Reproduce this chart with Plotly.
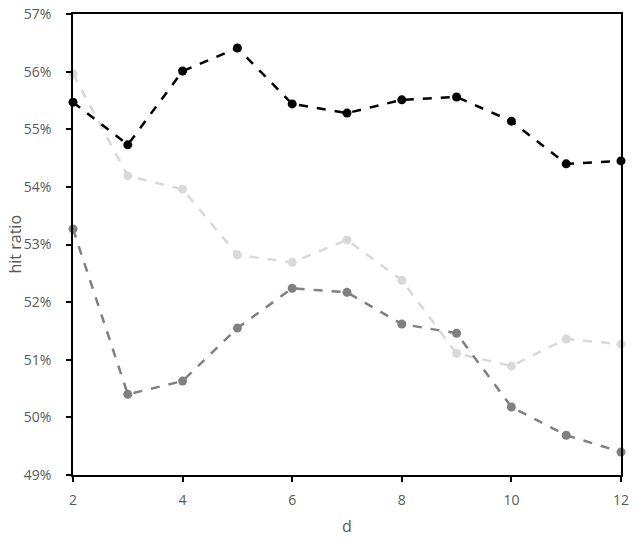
import plotly.graph_objects as go

d = [2, 3, 4, 5, 6, 7, 8, 9, 10, 11, 12]
black_series = [0.5547, 0.5473, 0.5601, 0.5641, 0.5544, 0.5528, 0.5551, 0.5556, 0.5514, 0.5440, 0.5445]
light_series = [0.5596, 0.5419, 0.5396, 0.5282, 0.5269, 0.5308, 0.5238, 0.5111, 0.5089, 0.5136, 0.5127]
grey_series = [0.5327, 0.5040, 0.5063, 0.5155, 0.5224, 0.5217, 0.5162, 0.5146, 0.5018, 0.4969, 0.4940]

y_ticks = [0.49, 0.50, 0.51, 0.52, 0.53, 0.54, 0.55, 0.56, 0.57]
x_ticks = [2, 4, 6, 8, 10, 12]


def series(y, color):
    return go.Scatter(
        x=d, y=y, mode='lines+markers',
        line=dict(color=color, width=2.5, dash='dash'),
        marker=dict(color=color, size=9),
        cliponaxis=False, showlegend=False)


fig = go.Figure([
    series(light_series, '#D9D9D9'),
    series(grey_series, '#808080'),
    series(black_series, '#000000'),
])

axis_font = dict(family='Open Sans, Liberation Sans, sans-serif', size=14, color='#595959')
title_font = dict(family='Open Sans, Liberation Sans, sans-serif', size=16, color='#595959')

fig.update_layout(
    width=636, height=540,
    margin=dict(l=73, r=15, t=14, b=65),
    paper_bgcolor='white', plot_bgcolor='white',
    font=axis_font,
    xaxis=dict(
        range=[2, 12], tickvals=x_ticks, ticks='outside', ticklen=5,
        tickcolor='black', tickwidth=1.5, ticklabelstandoff=6,
        showline=True, linecolor='black', linewidth=1.5, mirror=True,
        showgrid=False, zeroline=False, automargin=False,
        ticklabeloverflow='allow',
    ),
    yaxis=dict(
        range=[0.49, 0.57], tickvals=y_ticks, tickformat='.0%', ticks='outside',
        ticklen=5, tickcolor='black', tickwidth=1.5, ticklabelstandoff=12,
        ticksuffix='\u2004',
        showline=True, linecolor='black', linewidth=1.5, mirror=True,
        showgrid=False, zeroline=False, automargin=False,
        ticklabeloverflow='allow',
    ),
    annotations=[
        dict(text='hit ratio', xref='paper', yref='paper', x=0, y=0.5,
             xshift=-59, textangle=-90, showarrow=False, font=title_font,
             xanchor='center', yanchor='middle'),
        dict(text='d', xref='paper', yref='paper', x=0.5, y=0,
             yshift=-51, showarrow=False, font=title_font,
             xanchor='center', yanchor='middle'),
    ],
)

# drop the default body margin so the figure sits at the window's corner
fig.write_html("out.html", config={'displayModeBar': False},
               post_script="document.body.style.margin='0px';")
